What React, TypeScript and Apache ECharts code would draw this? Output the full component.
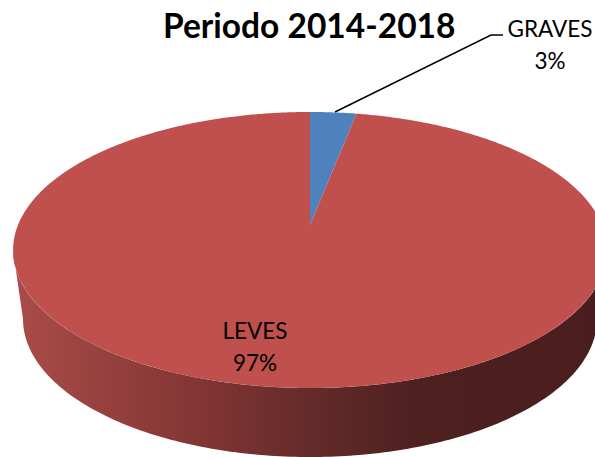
import React, { useEffect, useRef } from "react";
import * as echarts from "echarts";

const titleText = "Periodo 2014-2018";
const categories = ["GRAVES", "LEVES"];
const values = [3, 97];
const colors = ["#4F81BD", "#BF504D"];

const WIDTH = 595;
const HEIGHT = 457;
const CX = 310;
const APEX_Y = 225;
const PERSP = 0.181;
const SCALE_Y = 133.5;
const SCALE_X = 292;
const TOP_E = { cx: 310, cy: 250, rx: 297, ry: 138 };
const LOW_E = { cx: 310, cy: 319, rx: 287, ry: 138 };

const project = (theta: number): number[] => {
  const u = Math.sin(theta);
  const v = Math.cos(theta);
  const d = 1 + PERSP * v;
  return [CX + (SCALE_X * u) / d, APEX_Y - (SCALE_Y * v) / d];
};

const sectorPoints = (f0: number, f1: number): number[][] => {
  const pts: number[][] = [[CX, APEX_Y]];
  const a0 = f0 * 2 * Math.PI;
  const a1 = f1 * 2 * Math.PI;
  const n = Math.max(2, Math.ceil(((a1 - a0) / (2 * Math.PI)) * 720));
  for (let i = 0; i <= n; i++) pts.push(project(a0 + ((a1 - a0) * i) / n));
  return pts;
};

const wallPoints = (): number[][] => {
  const pts: number[][] = [];
  for (let d = 180; d >= 0; d--) {
    const t = (d * Math.PI) / 180;
    pts.push([TOP_E.cx + TOP_E.rx * Math.cos(t), TOP_E.cy + TOP_E.ry * Math.sin(t)]);
  }
  for (let d = 0; d <= 180; d++) {
    const t = (d * Math.PI) / 180;
    pts.push([LOW_E.cx + LOW_E.rx * Math.cos(t), LOW_E.cy + LOW_E.ry * Math.sin(t)]);
  }
  return pts;
};

const labelPositions = [
  { x: 550, y: 44 },
  { x: 255, y: 346 },
];

export default function App() {
  const ref = useRef<HTMLDivElement>(null);
  useEffect(() => {
    document.body.style.margin = "0";
    const chart = echarts.init(ref.current!, undefined, { renderer: "svg" });
    const total = values.reduce((a, b) => a + b, 0);
    chart.setOption({
      animation: false,
      backgroundColor: "#FFFFFF",
      title: {
        text: titleText,
        left: 163,
        top: 8,
        padding: 0,
        textStyle: { fontFamily: "Lato", fontWeight: "bold", fontSize: 33.5, color: "#000000" },
      },
      series: [
        {
          type: "custom",
          coordinateSystem: "none",
          clip: false,
          silent: true,
          data: categories.map((name, i) => ({ name, value: [values[i]] })),
          renderItem: (params: any) => {
            const i = params.dataIndex;
            const before = values.slice(0, i).reduce((a, b) => a + b, 0);
            const f0 = before / total;
            const f1 = (before + values[i]) / total;
            const children: any[] = [];
            if (i === 1) {
              children.push({
                type: "polygon",
                shape: { points: wallPoints() },
                style: {
                  fill: new echarts.graphic.LinearGradient(0, 0, 1, 0, [
                    { offset: 0, color: "#AA4C49" },
                    { offset: 0.3, color: "#843634" },
                    { offset: 0.5, color: "#642B2A" },
                    { offset: 0.68, color: "#4E2020" },
                    { offset: 1, color: "#4A1E1E" },
                  ]),
                },
              });
            }
            children.push({
              type: "polygon",
              shape: { points: sectorPoints(f0, f1) },
              style: { fill: colors[i] },
            });
            if (i === 0) {
              children.push({
                type: "polyline",
                shape: { points: [[335, 112], [491, 35], [503, 35]] },
                style: { stroke: "#000000", lineWidth: 1.5, fill: "none" },
              });
            }
            children.push({
              type: "text",
              x: labelPositions[i].x,
              y: labelPositions[i].y,
              style: {
                text: `${categories[i]}\n${Math.round((values[i] / total) * 100)}%`,
                fontFamily: "Lato",
                fontSize: 22.5,
                lineHeight: 32,
                fill: "#000000",
                align: "center",
                verticalAlign: "middle",
              },
            });
            return { type: "group", children };
          },
        },
      ],
    });
    return () => chart.dispose();
  }, []);
  return <div ref={ref} style={{ width: WIDTH, height: HEIGHT }} />;
}
